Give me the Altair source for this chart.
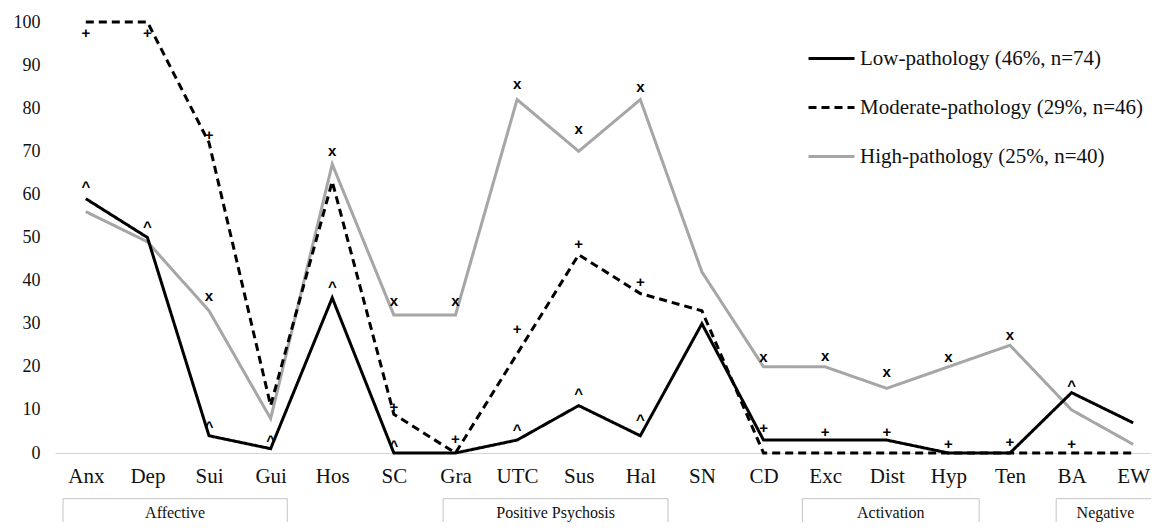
import altair as alt
import pandas as pd

categories = ["Anx", "Dep", "Sui", "Gui", "Hos", "SC", "Gra", "UTC", "Sus", "Hal",
              "SN", "CD", "Exc", "Dist", "Hyp", "Ten", "BA", "EW"]
low = [59, 50, 4, 1, 36, 0, 0, 3, 11, 4, 30, 3, 3, 3, 0, 0, 14, 7]
moderate = [100, 100, 72, 11, 63, 9, 0, 23, 46, 37, 33, 0, 0, 0, 0, 0, 0, 0]
high = [56, 49, 33, 8, 67, 32, 32, 82, 70, 82, 42, 20, 20, 15, 20, 25, 10, 2]
series_names = ["Low-pathology (46%, n=74)",
                "Moderate-pathology (29%, n=46)",
                "High-pathology (25%, n=40)"]

# significance markers (category, label position in data units)
caret_cats = ["Anx", "Dep", "Sui", "Gui", "Hos", "SC", "UTC", "Sus", "Hal", "BA"]
caret_pos = [62.6, 53.4, 7.0, 3.8, 39.4, 2.5, 6.3, 14.6, 8.6, 16.5]
plus_cats = ["Anx", "Dep", "Sui", "SC", "Gra", "UTC", "Sus", "Hal", "CD", "Exc",
             "Dist", "Hyp", "Ten", "BA"]
plus_pos = [97.4, 97.4, 73.8, 10.7, 3.2, 28.8, 48.5, 39.6, 5.9, 4.9, 4.8, 2.1, 2.5, 2.1]
x_cats = ["Sui", "Hos", "SC", "Gra", "UTC", "Sus", "Hal", "CD", "Exc", "Dist", "Hyp", "Ten"]
x_pos = [36.3, 69.9, 35.1, 35.1, 85.4, 74.9, 84.8, 22.1, 22.2, 18.5, 22.0, 27.1]

# group boxes below the axis, in category-index units
groups = ["Affective", "Positive Psychosis", "Activation", "Negative"]
group_start = [-0.37, 5.80, 11.63, 15.75]
group_end = [3.27, 9.45, 14.50, 18.30]
box_top = -10.6
box_bottom = -19.0
box_label = -14.0

rows = []
for name, vals in zip(series_names, [low, moderate, high]):
    for c, v in zip(categories, vals):
        rows.append({"cat": c, "value": v, "series": name})
df = pd.DataFrame(rows)

serif = "Liberation Serif, Times New Roman, Times, DejaVu Serif, serif"
RANGE = [0, 1109]

x_enc = alt.X("cat:N",
              scale=alt.Scale(type="point", domain=categories, range=RANGE, padding=0.5),
              axis=alt.Axis(title=None, labelAngle=0, labelFont=serif, labelFontSize=21,
                            labelColor="#111111", ticks=False, tickSize=0, labelPadding=12,
                            domainColor="#d4d4d4", domainWidth=1, grid=False))
y_axis = alt.Axis(title=None, values=list(range(0, 101, 10)), domain=False, ticks=False,
                  tickSize=0, grid=False, labelFont=serif, labelFontSize=18,
                  labelColor="#111111", labelPadding=15)
y_scale = alt.Scale(domain=[0, 100], nice=False, zero=False)

def make_legend():
    return alt.Legend(title=None, orient="none", legendX=752, legendY=12,
                      symbolType="stroke", symbolSize=2116, labelLimit=500,
                      labelFont=serif, labelFontSize=21, labelColor="#111111",
                      labelOffset=4, rowPadding=14)

color_enc = alt.Color("series:N",
                      scale=alt.Scale(domain=series_names, range=["#000000", "#000000", "#a6a6a6"]),
                      legend=make_legend())
dash_enc = alt.StrokeDash("series:N",
                          scale=alt.Scale(domain=series_names, range=[[1, 0], [8, 5], [1, 0]]),
                          legend=make_legend())
width_enc = alt.StrokeWidth("series:N",
                            scale=alt.Scale(domain=series_names, range=[3, 3, 4.2]),
                            legend=make_legend())

base = alt.Chart(df)
line_layers = []
for name in [series_names[2], series_names[1], series_names[0]]:
    line_layers.append(
        base.transform_filter(alt.datum.series == name)
        .mark_line(strokeCap="butt", strokeJoin="miter")
        .encode(x=x_enc,
                y=alt.Y("value:Q", scale=y_scale, axis=y_axis),
                color=color_enc, strokeDash=dash_enc, strokeWidth=width_enc)
    )

def marker_layer(cats, pos, sym, dy):
    d = pd.DataFrame({"cat": cats, "pos": pos, "sym": [sym] * len(cats)})
    return alt.Chart(d).mark_text(font="Liberation Sans, Arial, sans-serif", fontWeight="bold",
                                  fontSize=15, color="#000000", baseline="middle",
                                  align="center", dy=dy).encode(
        x=x_enc, y=alt.Y("pos:Q", scale=y_scale, axis=y_axis), text="sym:N")

markers = [marker_layer(caret_cats, caret_pos, "^", 4),
           marker_layer(plus_cats, plus_pos, "+", 0),
           marker_layer(x_cats, x_pos, "x", -1)]

main = alt.layer(*line_layers, *markers)

gdf = pd.DataFrame({"group": groups, "start": group_start, "end": group_end,
                    "top": [box_top] * 4, "bottom": [box_bottom] * 4,
                    "ly": [box_label] * 4})
gdf["mid"] = [(s + min(e, 17.35)) / 2 if g == "Negative" else (s + e) / 2
              for g, s, e in zip(groups, group_start, group_end)]
qx = alt.Scale(domain=[-0.5, 17.5], range=RANGE, nice=False, zero=False)
boxes = alt.Chart(gdf).mark_rect(fill="#ffffff", stroke="#c4c4c4", strokeWidth=1).encode(
    x=alt.X("start:Q", scale=qx, axis=None), x2="end:Q",
    y=alt.Y("top:Q", scale=y_scale, axis=y_axis), y2="bottom:Q")
box_text = alt.Chart(gdf).mark_text(font=serif, fontSize=16, color="#111111",
                                    baseline="middle", align="center").encode(
    x=alt.X("mid:Q", scale=qx, axis=None),
    y=alt.Y("ly:Q", scale=y_scale, axis=y_axis), text="group:N")
box_layer = alt.layer(boxes, box_text)

chart = alt.layer(main, box_layer).resolve_scale(x="independent").properties(
    width=1096, height=431,
    autosize=alt.AutoSizeParams(type="none"),
    padding={"left": 47, "top": 14, "right": 0, "bottom": 69},
    background="#ffffff",
).configure_view(stroke=None)

chart.save("out.html", embed_options={"renderer": "svg", "actions": False})
